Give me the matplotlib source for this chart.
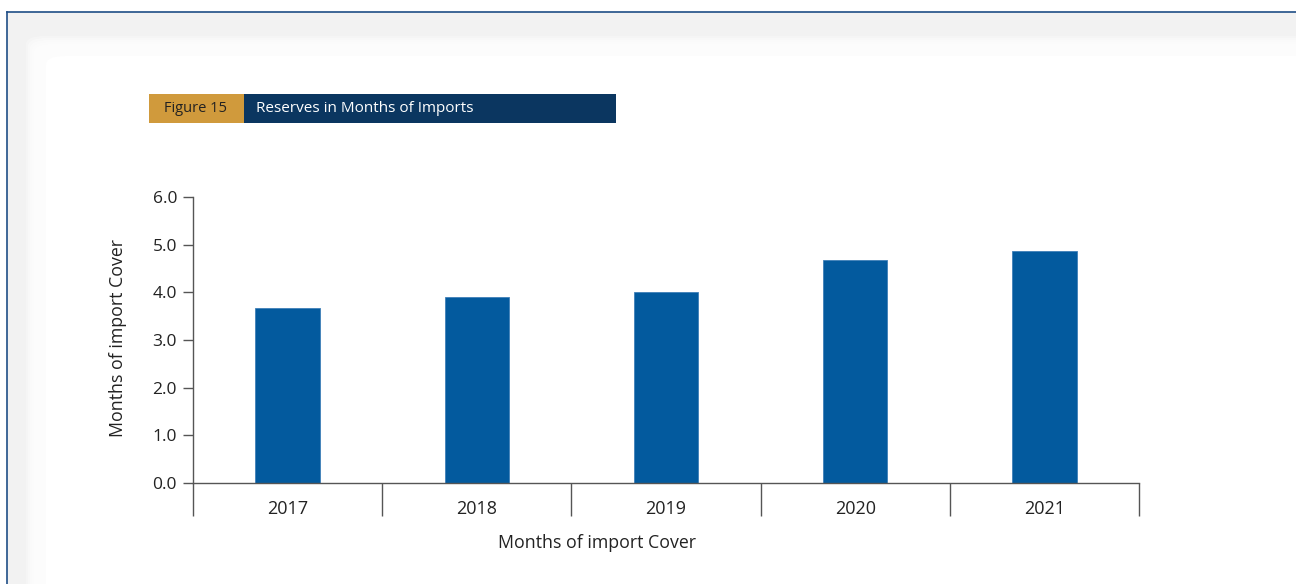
import matplotlib
matplotlib.use("Agg")
import matplotlib.pyplot as plt
from matplotlib.patches import Rectangle, FancyBboxPatch
from matplotlib.lines import Line2D

years = ["2017", "2018", "2019", "2020", "2021"]
cover = [3.67, 3.90, 4.00, 4.68, 4.87]
yticks = [0.0, 1.0, 2.0, 3.0, 4.0, 5.0, 6.0]

plt.rcParams['font.family'] = ['Open Sans', 'DejaVu Sans']

W, H = 1296, 584
fig = plt.figure(figsize=(W / 100, H / 100), dpi=100)
fig.patch.set_facecolor("white")

def fx(px):
    return px / W

def fy(py):
    return 1 - py / H

# page frame and soft shadow
fig.patches.append(Rectangle((fx(7), 0), 1 - fx(7), fy(12), transform=fig.transFigure,
                             facecolor="#f2f2f2", edgecolor="none", zorder=0))
n = 10
for i in range(n):
    off = (n - 1 - i) * 2
    fig.patches.append(FancyBboxPatch((fx(26 + off), -0.1), 1.2, fy(36 + off) + 0.1,
                                      boxstyle="round,pad=0,rounding_size=0.015",
                                      transform=fig.transFigure, facecolor="white",
                                      edgecolor="none", alpha=0.3, zorder=0.5))
fig.patches.append(FancyBboxPatch((fx(46), -0.1), 1.2, fy(56) + 0.1,
                                  boxstyle="round,pad=0,rounding_size=0.015",
                                  transform=fig.transFigure, facecolor="white",
                                  edgecolor="none", zorder=0.6))
fig.lines.append(Line2D([fx(7), 1], [fy(12), fy(12)], transform=fig.transFigure,
                        color="#1f4e86", lw=1.2, zorder=1))
fig.lines.append(Line2D([fx(7), fx(7)], [0, fy(12)], transform=fig.transFigure,
                        color="#1f4e86", lw=1.2, zorder=1))

# header
fig.patches.append(Rectangle((fx(149), fy(123)), fx(244) - fx(149), fy(94) - fy(123),
                             transform=fig.transFigure, facecolor="#d09a3c", edgecolor="none", zorder=2))
fig.patches.append(Rectangle((fx(244), fy(123)), fx(616) - fx(244), fy(94) - fy(123),
                             transform=fig.transFigure, facecolor="#0b3660", edgecolor="none", zorder=2))
fig.text(fx(195), fy(108.5), "Figure 15", ha="center", va="center", fontsize=10.5,
         color="#222222", zorder=3)
fig.text(fx(256), fy(108.5), "Reserves in Months of Imports", ha="left", va="center",
         fontsize=11, color="white", zorder=3)

# axes
ax = fig.add_axes([fx(193), fy(483), fx(1139) - fx(193), fy(197) - fy(483)])
ax.set_zorder(5)
ax.set_facecolor("none")
x = list(range(len(years)))
ax.bar(x, cover, width=0.34, color="#035a9e", edgecolor="#3f7fb8", linewidth=0.6, zorder=2)
ax.set_xlim(-0.5, len(years) - 0.5)
ax.set_ylim(0, 6)
ax.set_yticks(yticks)
ax.set_yticklabels([f"{v:.1f}" for v in yticks], fontsize=12.5, color="#222222")
ax.set_xticks(x)
ax.set_xticklabels(years, fontsize=13, color="#222222")
ax.set_xticks([i - 0.5 for i in range(len(years) + 1)], minor=True)
ax.tick_params(axis="x", which="major", length=0, pad=12)
ax.tick_params(axis="x", which="minor", length=24, width=1, color="#555555", direction="out")
ax.tick_params(axis="y", length=7.5, width=1, color="#555555", pad=4)
for s in ["top", "right"]:
    ax.spines[s].set_visible(False)
for s in ["left", "bottom"]:
    ax.spines[s].set_color("#555555")
    ax.spines[s].set_linewidth(1)

fig.text(fx(118), fy(338), "Months of import Cover", rotation=90, ha="center", va="center",
         fontsize=12.8, color="#222222", zorder=6)
fig.text(fx(597), fy(543), "Months of import Cover", ha="center", va="center",
         fontsize=12.8, color="#222222", zorder=6)

fig.savefig("out.png", dpi=100)
